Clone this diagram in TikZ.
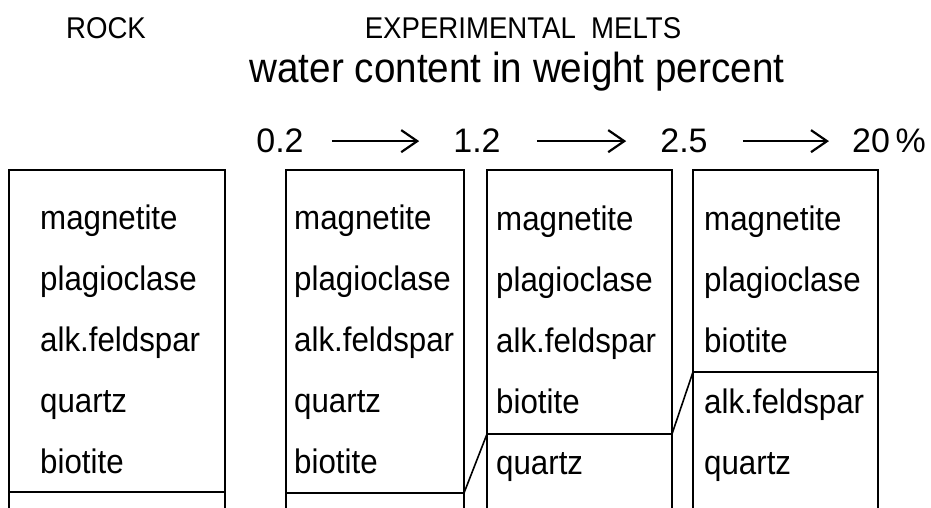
\documentclass[tikz,border=0pt]{standalone}
\usepackage{fontspec}
\setmainfont{Liberation Sans}
\newfontfamily\narrowfont[FakeStretch=0.92]{Liberation Sans}
\usetikzlibrary{
  arrows.meta,
  positioning,
  calc
}

\begin{document}
\begin{tikzpicture}[x=1pt, y=-1pt,
  frame/.style={line width=1.6pt},
  split/.style={line width=2.6pt},
  mineral/.style={anchor=base west, inner sep=0pt, font=\narrowfont\fontsize{34}{36}\selectfont},
  title/.style={anchor=base, inner sep=0pt, font=\narrowfont\fontsize{30}{32}\selectfont},
  wt/.style={anchor=base, inner sep=0pt, text depth=0pt, font=\fontsize{34}{36}\selectfont},
  rise/.style={-{Straight Barb[length=16pt, width=22pt, line width=2.2pt]}, line width=1.8pt}
]
\useasboundingbox (0,0) rectangle (931,508);

% headings
\node[title] (rock) at (106,39) {ROCK};
\node[title] (melts) at (523,39) {EXPERIMENTAL\ \ MELTS};
\node[title, font=\narrowfont\fontsize{42}{44}\selectfont] (water) at (517,83) {water content in weight percent};

% water contents
\node[wt] (w1) at (280,153) {0.2};
\node[wt] (w2) at (477,153) {1.2};
\node[wt] (w3) at (684,153) {2.5};
\node[wt] (w4) at (889,153) {20\,\%};
\draw[rise, shorten <=28pt, shorten >=34pt] (w1) -- (w2);
\draw[rise, shorten <=36pt, shorten >=34pt] (w2) -- (w3);
\draw[rise, shorten <=35pt, shorten >=23pt] (w3) -- (w4);

% columns, open at the bottom
\foreach \col/\xl/\xr/\ys in {rock/9/225/492, mA/286/464/493, mB/487/672/434, mC/693/878/372} {
  \draw[frame] (\xl,510) |- (\xr,170) -- (\xr,510);
  \draw[split] (\xl,\ys) coordinate (\col-w) -- (\xr,\ys) coordinate (\col-e);
}
\draw[frame] (mA-e) -- (mB-w);
\draw[frame] (mB-e) -- (mC-w);

% minerals
\foreach \name [count=\i] in {magnetite, plagioclase, alk.feldspar, quartz, biotite}
  \node[mineral] (rock-\i) at (40,168+61*\i) {\name};
\foreach \name [count=\i] in {magnetite, plagioclase, alk.feldspar, quartz, biotite}
  \node[mineral] (mA-\i) at (294,168+61*\i) {\name};
\foreach \name [count=\i] in {magnetite, plagioclase, alk.feldspar, biotite, quartz}
  \node[mineral] (mB-\i) at (496,169+61*\i) {\name};
\foreach \name [count=\i] in {magnetite, plagioclase, biotite, alk.feldspar, quartz}
  \node[mineral] (mC-\i) at (704,169+61*\i) {\name};
\end{tikzpicture}
\end{document}
